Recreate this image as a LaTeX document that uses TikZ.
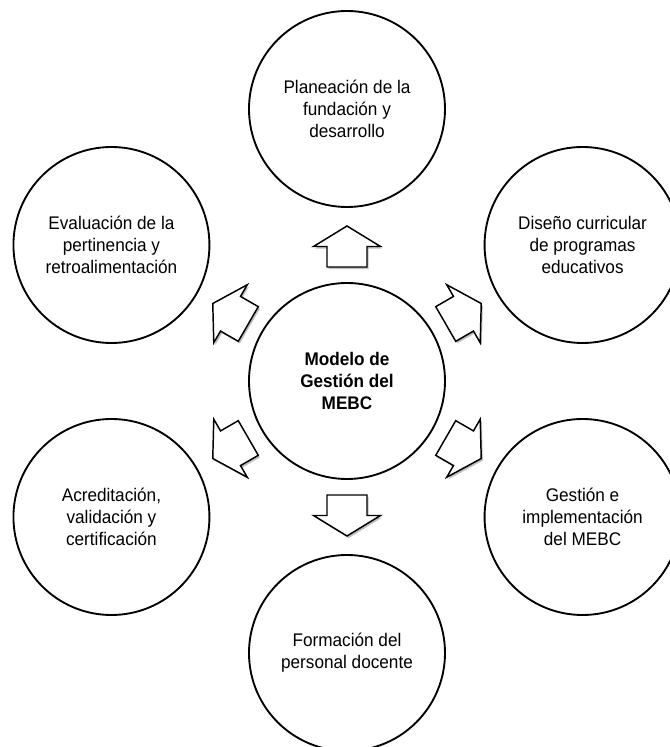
\documentclass[tikz,border=0pt]{standalone}
\usepackage{fontspec}
\setmainfont{Liberation Sans}
\newfontfamily\stagefont[FakeStretch=0.94]{Liberation Sans}
\usetikzlibrary{calc,shadows}
\begin{document}
\begin{tikzpicture}[x=0.75pt,y=0.75pt,
  stage/.style={circle, draw, line width=1.4pt, minimum size=147pt, inner sep=0pt,
    align=center, font=\stagefont\fontsize{13.7}{16.3}\selectfont},
  hub/.style={stage, font=\stagefont\bfseries\fontsize{13.7}{16.3}\selectfont},
  flowarrow/.style={draw, fill=white, line width=1.1pt, line join=miter,
    drop shadow={opacity=0.25, shadow xshift=1.2pt, shadow yshift=-1.6pt, fill=black}}]
\useasboundingbox (0,0) rectangle (670,747);

% centre of the cycle
\coordinate (o) at (347,366);

\node[hub] (hub) at (o) {Modelo de\\Gestión del\\MEBC};

% six stages around the hub
\node[stage] (plan) at ([shift={(90:272)}]o) {Planeación de la\\fundación y\\desarrollo};
\node[stage] (dise) at ([shift={(30:272)}]o) {Diseño curricular\\de programas\\educativos};
\node[stage] (gest) at ([shift={(-30:272)}]o) {Gestión e\\implementación\\del MEBC};
\node[stage] (form) at ([shift={(-90:272)}]o) {Formación del\\personal docente};
\node[stage] (acre) at ([shift={(-150:272)}]o) {Acreditación,\\validación y\\certificación};
\node[stage] (eval) at ([shift={(150:272)}]o) {Evaluación de la\\pertinencia y\\retroalimentación};

% outlined block arrows pointing from the hub to each stage
\foreach \a in {90,30,-30,-90,-150,150}{
  \draw[flowarrow]
    ($(o)+(\a:114)+(\a+90:20)$) --
    ($(o)+(\a:134.5)+(\a+90:20)$) --
    ($(o)+(\a:134.5)+(\a+90:33.5)$) --
    ($(o)+(\a:155)$) --
    ($(o)+(\a:134.5)+(\a-90:33.5)$) --
    ($(o)+(\a:134.5)+(\a-90:20)$) --
    ($(o)+(\a:114)+(\a-90:20)$) -- cycle;
}
\end{tikzpicture}
\end{document}
